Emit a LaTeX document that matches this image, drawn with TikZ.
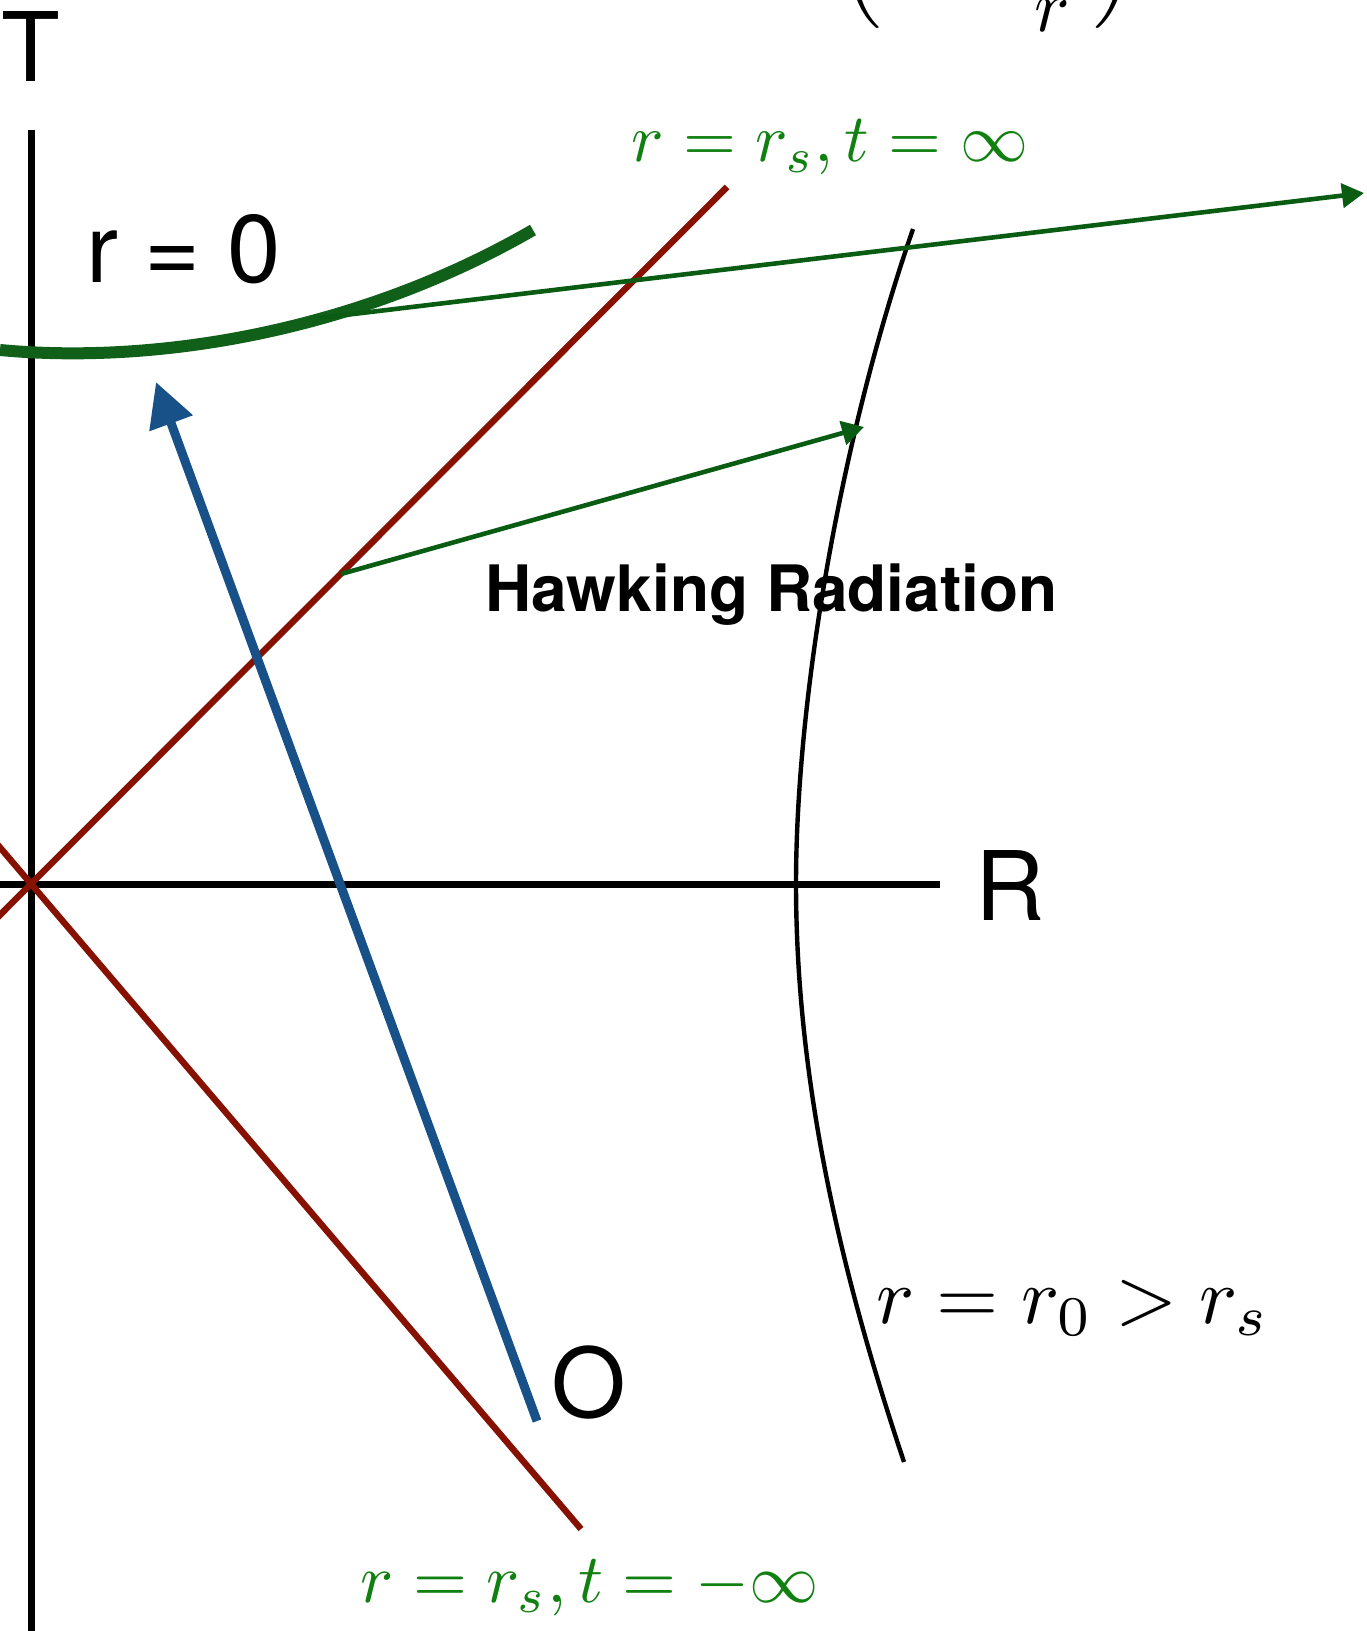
\documentclass[tikz,border=0pt]{standalone}
\usepackage{fontspec}
\newfontfamily\helv{TeX Gyre Heros}
\usetikzlibrary{arrows.meta}

\definecolor{horizonred}{RGB}{135,17,0}
\definecolor{raygreen}{RGB}{10,92,18}
\definecolor{singgreen}{RGB}{16,96,26}
\definecolor{labelgreen}{RGB}{16,128,16}
\definecolor{fallblue}{RGB}{24,80,136}

\begin{document}
\begin{tikzpicture}[
  x=0.5pt, y=-0.5pt,
  line join=round,
  axis/.style={line width=3.5pt},
  horizon/.style={horizonred, line width=3.2pt},
  sing/.style={singgreen, line width=6pt},
  orbit/.style={line width=2.2pt},
  ray/.style={raygreen, line width=2.3pt, -{Triangle[length=11pt,width=12pt]}},
  infall/.style={fallblue, line width=4.5pt, -{Triangle[length=22pt,width=22pt]}},
  big/.style={font=\helv\fontsize{48}{56}\selectfont, inner sep=0pt},
  bold/.style={font=\helv\bfseries\fontsize{32}{38}\selectfont, inner sep=0pt},
  mlbl/.style={scale=4, transform shape, inner sep=0pt},
  glbl/.style={labelgreen, scale=3.4, transform shape, inner sep=0pt},
]
\useasboundingbox (0,0) rectangle (1366,1631);

% ── the formula, cut off by the top edge ──────────────────────────────────
\node[mlbl, scale=0.93, anchor=base] (metric) at (988,-20) {$\displaystyle\left(1-\frac{r_s}{r}\right)$};

% ── the axes ──────────────────────────────────────────────────────────────
\coordinate (origin) at (31,884);
\coordinate (Ttop) at (31,130);
\coordinate (Tbot) at (31,1640);
\coordinate (Rleft) at (0,884);
\coordinate (Rright) at (940,884);
\draw[axis] (Tbot) -- (Ttop);
\draw[axis] (Rleft) -- (Rright);
\node[big, anchor=base] (Tlbl) at (31,82) {T};
\node[big, anchor=base] (Rlbl) at (1010,920) {R};

% ── the horizons ──────────────────────────────────────────────────────────
\coordinate (futL) at (-20,935);
\coordinate (futR) at (727,187);
\coordinate (pastL) at (-20,824);
\coordinate (pastR) at (581,1529);
\draw[horizon] (futL) -- (futR);
\draw[horizon] (pastL) -- (pastR);
\node[glbl, anchor=base] (futlbl) at (830,162) {$r = r_s, t = \infty$};
\node[glbl, scale=1.02, anchor=base] (pastlbl) at (590,1602) {$r = r_s, t = -\infty$};

% ── the singularity ───────────────────────────────────────────────────────
\coordinate (singL) at (0,350);
\coordinate (singR) at (533,230);
\draw[sing] (singL) .. controls (160,365) and (360,330) .. (singR);
\node[big, anchor=base west] (r0lbl) at (86,283) {r = 0};

% ── the observer at r = r0 ────────────────────────────────────────────────
\coordinate (orbTop) at (913,229);
\coordinate (orbMid) at (796,884);
\coordinate (orbBot) at (904,1462);
\draw[orbit] (orbTop) .. controls (840,440) and (796,700) .. (orbMid)
  .. controls (796,1100) and (850,1300) .. (orbBot);
\node[mlbl, anchor=base] (orbitlbl) at (1073,1323) {$r = r_0 > r_s$};

% ── the rays ──────────────────────────────────────────────────────────────
\coordinate (emitA) at (320,318);
\coordinate (farA) at (1364,193);
\coordinate (emitB) at (341,574);
\coordinate (farB) at (864,427);
\draw[ray] (emitA) -- (farA);
\draw[ray] (emitB) -- (farB);
\node[bold, anchor=base west] (hawking) at (485,611) {Hawking Radiation};

% ── the falling observer ──────────────────────────────────────────────────
\coordinate (start) at (537,1421);
\coordinate (stop) at (156,382);
\draw[infall] (start) -- (stop);
\node[big, anchor=base] (Olbl) at (589,1417) {O};

\end{tikzpicture}
\end{document}
